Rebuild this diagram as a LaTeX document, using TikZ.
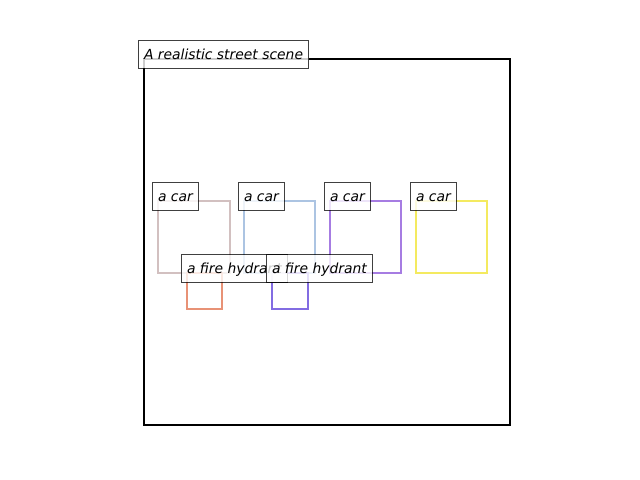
\documentclass[tikz,border=0pt]{standalone}
\usepackage{fontspec}
\setmainfont{DejaVu Sans}
\usepackage{tikz}
\definecolor{carA}{RGB}{210,192,192}
\definecolor{carB}{RGB}{172,196,226}
\definecolor{carC}{RGB}{166,124,226}
\definecolor{carD}{RGB}{244,234,96}
\definecolor{hydA}{RGB}{232,146,118}
\definecolor{hydB}{RGB}{130,108,226}
\tikzset{
  tag/.style={anchor=base west, xshift=-4pt, draw=black, fill=white, draw opacity=0.75,
    fill opacity=0.8, text opacity=1, inner sep=4pt, outer sep=0pt,
    text height=9.3pt, text depth=2.8pt, font=\itshape, line width=0.8pt},
  objbox/.style={line width=1.7pt}
}
\begin{document}
\begin{tikzpicture}[x=0.72pt, y=-0.72pt]
			%%%%% START %%%%%
			\useasboundingbox (0, 0) rectangle (640, 480);
			
			\draw[line width=1.9pt] (144, 59) rectangle (510, 425);
			
			\draw[objbox, color=carA] (158, 201) rectangle (230, 273);
			\draw[objbox, color=carB] (244, 201) rectangle (315, 273);
			\draw[objbox, color=carC] (330, 201) rectangle (401, 273);
			\draw[objbox, color=carD] (416, 201) rectangle (487, 273);
			
			\draw[objbox, color=hydA] (187, 273) rectangle (222, 309);
			\draw[objbox, color=hydB] (272, 273) rectangle (308, 309);
			
			\node[tag] (scene) at (144, 59) {A realistic street scene};
			\node[tag] (car1) at (158, 201) {a car};
			\node[tag] (car2) at (244, 201) {a car};
			\node[tag] (car3) at (330, 201) {a car};
			\node[tag] (car4) at (416, 201) {a car};
			\node[tag] (hydrant1) at (187, 273) {a fire hydrant};
			\node[tag] (hydrant2) at (272, 273) {a fire hydrant};
			
			%%%%% END %%%%%
\end{tikzpicture}
\end{document}
